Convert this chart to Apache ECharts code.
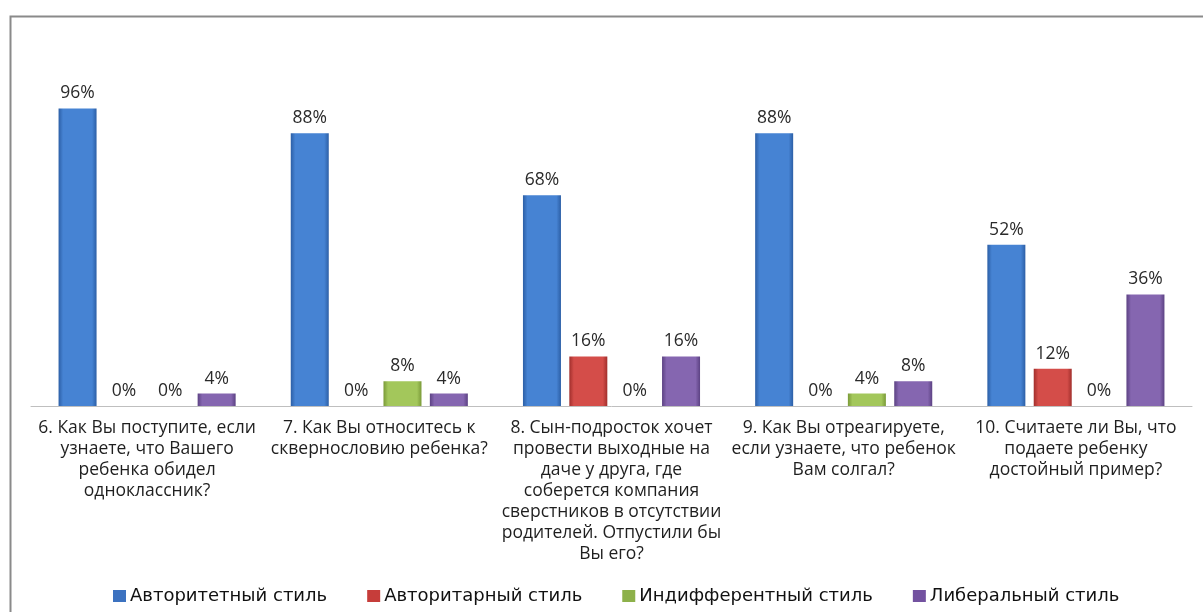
<!DOCTYPE html>
<html>
<head>
<meta charset="utf-8">
<script src="https://cdn.jsdelivr.net/npm/echarts@6/dist/echarts.min.js"></script>
<style>
html,body{margin:0;padding:0;background:#fff;}
#c{width:1203px;height:612px;}
</style>
</head>
<body>
<div id="c"></div>
<script>
const categories = [
  "6. Как Вы поступите, если\nузнаете, что Вашего\nребенка обидел\nодноклассник?",
  "7. Как Вы относитесь к\nсквернословию ребенка?",
  "8. Сын-подросток хочет\nпровести выходные на\nдаче у друга, где\nсоберется компания\nсверстников в отсутствии\nродителей. Отпустили бы\nВы его?",
  "9. Как Вы отреагируете,\nесли узнаете, что ребенок\nВам солгал?",
  "10. Считаете ли Вы, что\nподаете ребенку\nдостойный пример?"
];
const seriesNames = ["Авторитетный стиль", "Авторитарный стиль", "Индифферентный стиль", "Либеральный стиль"];
const authoritative = [96, 88, 68, 88, 52];
const authoritarian = [0, 0, 16, 0, 12];
const indifferent = [0, 8, 0, 4, 0];
const liberal = [4, 4, 16, 8, 36];
const seriesData = [authoritative, authoritarian, indifferent, liberal];

const palettes = [
  ['#2c5fa6', '#4683d3', '#2c5fa6'],
  ['#a12f2c', '#d44d49', '#a12f2c'],
  ['#7a9a38', '#a3c75b', '#7a9a38'],
  ['#5c4283', '#8566b0', '#5c4283']
];
const legendColors = ['#3c72c0', '#c63d3a', '#8db14a', '#7352a0'];

function grad(p) {
  return new echarts.graphic.LinearGradient(0, 0, 1, 0, [
    {offset: 0, color: p[0]}, {offset: 0.12, color: p[1]},
    {offset: 0.88, color: p[1]}, {offset: 1, color: p[2]}
  ]);
}

const chart = echarts.init(document.getElementById('c'), null, {renderer: 'canvas'});
chart.setOption({
  backgroundColor: '#fff',
  animation: false,
  graphic: [{
    type: 'rect', left: 8, top: 14,
    shape: {width: 1300, height: 700},
    style: {fill: 'none', stroke: '#8a8a8a', lineWidth: 2},
    silent: true, z: -1
  }],
  grid: {left: 31, right: 11, top: 96, bottom: 206, containLabel: false},
  legend: {
    left: 108, top: 582,
    icon: 'rect', itemWidth: 13, itemHeight: 12, itemGap: 40,
    textStyle: {fontFamily: 'DejaVu Sans', fontSize: 18, color: '#111', padding: [0, 0, 0, -1]},
    data: seriesNames.map((n, i) => ({name: n, itemStyle: {color: legendColors[i]}}))
  },
  xAxis: {
    type: 'category', data: categories,
    axisLine: {lineStyle: {color: '#bfbfbf', width: 1}},
    axisTick: {show: false},
    axisLabel: {
      interval: 0, margin: 12, color: '#1f1f1f',
      fontFamily: 'Open Sans', fontSize: 17.5, lineHeight: 21, align: 'center'
    }
  },
  yAxis: {type: 'value', min: 0, max: 100, show: false, splitLine: {show: false}},
  series: seriesData.map((d, i) => ({
    name: seriesNames[i], type: 'bar', data: d,
    barWidth: 38, barGap: '22%',
    itemStyle: {color: grad(palettes[i]), borderWidth: 0},
    label: {
      show: true, position: 'top', distance: 6,
      formatter: '{c}%', color: '#2a2a2a',
      fontFamily: 'Open Sans', fontSize: 17.5
    }
  }))
});
</script>
</body>
</html>
